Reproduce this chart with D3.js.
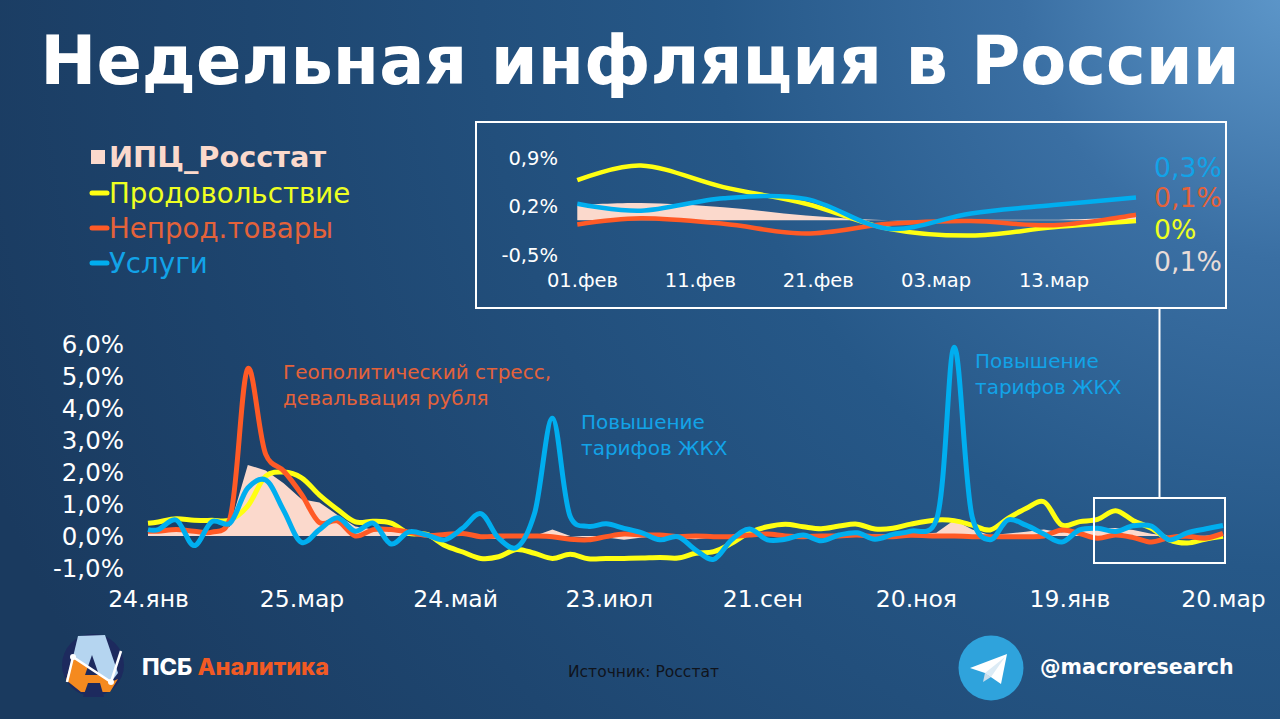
<!DOCTYPE html>
<meta charset="utf-8">
<style>
  html, body { margin: 0; padding: 0; background: #1c4068; overflow: hidden; }
  text { font-family: "DejaVu Sans", sans-serif; }
</style>
<script src="https://d3js.org/d3.v7.min.js"></script>
<div id="chart"></div>
<script>

// weekly observations, days counted from 24 Jan
var days = [0, 4, 11, 18, 25, 32, 39, 46, 53, 60, 67, 74, 81, 88, 95, 102, 109, 116, 123, 130, 137, 144,
  151, 158, 165, 172, 179, 186, 193, 200, 207, 214, 221, 228, 235, 242, 249, 256, 263, 270, 277, 284, 291, 298,
  308, 315, 322, 329, 336, 343, 350, 357, 364, 371, 378, 385, 392, 399, 406, 413, 420];

var cpi = [.15, .15, .2, .15, .1, .3, 2.22, 2.05, 1.65, 1.15, 1.05, .66, .3, .2, .2, .12, .05, -.02, .05, -.05, -.1, 0,
  0, .2, 0, -.05, -.05, -.12, -.05, 0, -.07, -.1, -.05, -.05, 0, .05, .05, .05, .05, .05, .05, .05, .05, .05,
  .1, .5, .2, .02, .08, .13, .2, .11, .2, .22, .25, .19, .07, 0, .01, .01, .05];

var food = [.4, .44, .54, .49, .49, .5, .94, 1.87, 2, 1.82, 1.28, .83, .44, .46, .4, .08, .05, -.3, -.5, -.7, -.65, -.42,
  -.54, -.7, -.57, -.71, -.7, -.7, -.69, -.67, -.69, -.54, -.49, -.23, .11, .29, .37, .29, .23, .31, .37, .22, .24, .37,
  .5, .48, .34, .19, .55, .86, 1.07, .34, .45, .52, .79, .48, .24, -.12, -.22, -.1, -.01];

var goods = [.15, .15, .2, .15, .12, .55, 5.23, 2.55, 2.03, 1.3, .42, .47, 0, .2, .2, .12, .02, .05, .08, -.02, 0, 0,
  0, -.02, -.1, -.12, -.02, .06, .03, .03, -.02, 0, -.02, -.02, .03, .06, 0, -.02, 0, 0, .03, -.02, -.02, .02,
  0, 0, -.02, -.02, -.02, -.02, 0, .19, .08, -.07, .03, -.05, -.19, -.05, -.01, -.07, .08];

var services = [.2, .2, .5, -.3, .45, .4, 1.5, 1.75, .8, -.2, .2, .57, .15, .4, -.25, .13, .03, -.12, .25, .7, -.07, -.36,
  .7, 3.68, .6, .3, .38, .24, .1, -.12, -.02, -.44, -.73, -.12, .22, -.12, -.1, .03, -.15, .03, .1, -.1, .05, .15,
  .5, 5.9, .6, -.12, .5, .34, .06, -.19, .19, .24, .14, .32, .31, -.12, .1, .22, .33];

var xTickDays = [0, 60, 120, 180, 240, 300, 360, 420];
var xTickLabels = ["24.янв", "25.мар", "24.май", "23.июл", "21.сен", "20.ноя", "19.янв", "20.мар"];
var yTicks = [-1, 0, 1, 2, 3, 4, 5, 6];
var yTickLabels = ["-1,0%", "0,0%", "1,0%", "2,0%", "3,0%", "4,0%", "5,0%", "6,0%"];

// zoomed window, days counted from 1 Feb
var insetDays = [-.4, 5, 12, 19, 26, 33, 40, 47];
var insetCpi = [.22, .25, .19, .07, 0, .01, .01, .05];
var insetFood = [.58, .79, .48, .24, -.12, -.22, -.1, -.01];
var insetGoods = [-.06, .03, -.05, -.19, -.05, -.01, -.07, .08];
var insetServices = [.24, .14, .32, .31, -.12, .1, .22, .33];

var insetXTicks = [0, 10, 20, 30, 40];
var insetXLabels = ["01.фев", "11.фев", "21.фев", "03.мар", "13.мар"];
var insetYTicks = [-.5, .2, .9];
var insetYLabels = ["-0,5%", "0,2%", "0,9%"];
var lastValues = ["0,3%", "0,1%", "0%", "0,1%"];

var legendNames = ["ИПЦ_Росстат", "Продовольствие", "Непрод.товары", "Услуги"];

var colPale = "#fbd9cc", colYellow = "#ffff12", colOrange = "#ff5a26", colBlue = "#00aeef";
var txtYellow = "#eeff22", txtOrange = "#e4623a", txtBlue = "#12a3e8";

var svg = d3.select("#chart").append("svg")
    .attr("width", 1280)
    .attr("height", 719)
    .style("display", "block");

var defs = svg.append("defs");
var bg = defs.append("radialGradient")
    .attr("id", "bg")
    .attr("gradientUnits", "userSpaceOnUse")
    .attr("cx", 1300).attr("cy", -20).attr("r", 1400);
bg.append("stop").attr("offset", "0").attr("stop-color", "#5f99cc");
bg.append("stop").attr("offset", ".2").attr("stop-color", "#3a6fa3");
bg.append("stop").attr("offset", ".42").attr("stop-color", "#265888");
bg.append("stop").attr("offset", ".75").attr("stop-color", "#1e4670");
bg.append("stop").attr("offset", "1").attr("stop-color", "#1a3a5f");

svg.append("rect").attr("width", 1280).attr("height", 719).attr("fill", "url(#bg)");

svg.append("text")
    .attr("x", 640)
    .attr("y", 84)
    .attr("text-anchor", "middle")
    .attr("font-size", "67px")
    .attr("font-weight", "bold")
    .attr("fill", "white")
    .text("Недельная инфляция в России");

// legend
var legendY = [157, 193, 228, 263];
var legendCol = [colPale, colYellow, colOrange, colBlue];
var legendTxt = [colPale, txtYellow, txtOrange, txtBlue];
legendNames.forEach(function (name, i) {
    if (i == 0) {
        svg.append("rect").attr("x", 91).attr("y", 150).attr("width", 14).attr("height", 14).attr("fill", colPale);
    } else {
        svg.append("line")
            .attr("x1", 92).attr("x2", 107)
            .attr("y1", legendY[i]).attr("y2", legendY[i])
            .attr("stroke", legendCol[i])
            .attr("stroke-width", 5)
            .attr("stroke-linecap", "round");
    }
    svg.append("text")
        .attr("x", 109)
        .attr("y", legendY[i] + 10)
        .attr("font-size", i == 0 ? "28.8px" : "27.7px")
        .attr("font-weight", i == 0 ? "bold" : "normal")
        .attr("fill", legendTxt[i])
        .text(name);
});

// main chart
var x = d3.scaleLinear().domain([0, 420]).range([148, 1223]);
var y = d3.scaleLinear().domain([-1, 6]).range([568, 344]);

var xAxis = svg.append("g")
    .attr("transform", "translate(0,584)")
    .call(d3.axisBottom(x).tickValues(xTickDays).tickSize(0).tickPadding(6)
        .tickFormat(function (d, i) { return xTickLabels[i]; }));
var yAxis = svg.append("g")
    .attr("transform", "translate(134,1)")
    .call(d3.axisLeft(y).tickValues(yTicks).tickSize(0).tickPadding(10)
        .tickFormat(function (d, i) { return yTickLabels[i]; }));
xAxis.select(".domain").remove();
yAxis.select(".domain").remove();
xAxis.selectAll("text").attr("fill", "white").style("font-size", "23.5px");
yAxis.selectAll("text").attr("fill", "white").style("font-size", "24.5px");

var smooth = d3.curveCatmullRom.alpha(.2);

function drawSeries(g, xs, sx, sy, vals, col, w) {
    var line = d3.line()
        .x(function (d, i) { return sx(xs[i]); })
        .y(function (d) { return sy(d); })
        .curve(smooth);
    g.append("path")
        .attr("d", line(vals))
        .attr("fill", "none")
        .attr("stroke", col)
        .attr("stroke-width", w)
        .attr("stroke-linejoin", "round");
}

function drawArea(g, xs, sx, sy, vals, curve) {
    var area = d3.area()
        .x(function (d, i) { return sx(xs[i]); })
        .y0(sy(0))
        .y1(function (d) { return sy(d); })
        .curve(curve);
    g.append("path").attr("d", area(vals)).attr("fill", colPale);
}

var main = svg.append("g");
drawArea(main, days, x, y, cpi, d3.curveLinear);
drawSeries(main, days, x, y, food, colYellow, 5);
drawSeries(main, days, x, y, goods, colOrange, 5);
drawSeries(main, days, x, y, services, colBlue, 5);

// annotations
function note(px, py, lines, col) {
    lines.forEach(function (t, i) {
        svg.append("text")
            .attr("x", px)
            .attr("y", py + i * 25.5)
            .attr("font-size", "20px")
            .attr("fill", col)
            .text(t);
    });
}
note(283, 379, ["Геополитический стресс,", "девальвация рубля"], txtOrange);
note(581, 429, ["Повышение", "тарифов ЖКХ"], txtBlue);
note(975, 368, ["Повышение", "тарифов ЖКХ"], txtBlue);

// frames
svg.append("rect").attr("x", 476).attr("y", 122).attr("width", 750).attr("height", 186)
    .attr("fill", "none").attr("stroke", "white").attr("stroke-width", 2);
svg.append("rect").attr("x", 1094).attr("y", 498).attr("width", 131).attr("height", 65)
    .attr("fill", "none").attr("stroke", "white").attr("stroke-width", 2);
svg.append("line").attr("x1", 1159.5).attr("x2", 1159.5).attr("y1", 308).attr("y2", 498)
    .attr("stroke", "white").attr("stroke-width", 2);

// inset chart
var xIn = d3.scaleLinear().domain([0, 47]).range([582, 1136]);
var yIn = d3.scaleLinear().domain([-.5, .9]).range([255, 158]);

var xInAxis = svg.append("g")
    .attr("transform", "translate(0,270)")
    .call(d3.axisBottom(xIn).tickValues(insetXTicks).tickSize(0).tickPadding(3)
        .tickFormat(function (d, i) { return insetXLabels[i]; }));
var yInAxis = svg.append("g")
    .attr("transform", "translate(558,0)")
    .call(d3.axisLeft(yIn).tickValues(insetYTicks).tickSize(0).tickPadding(0)
        .tickFormat(function (d, i) { return insetYLabels[i]; }));
xInAxis.select(".domain").remove();
yInAxis.select(".domain").remove();
xInAxis.selectAll("text").attr("fill", "white").style("font-size", "19.5px");
yInAxis.selectAll("text").attr("fill", "white").style("font-size", "19.5px");

var inset = svg.append("g");
drawArea(inset, insetDays, xIn, yIn, insetCpi, smooth);
drawSeries(inset, insetDays, xIn, yIn, insetFood, colYellow, 4.5);
drawSeries(inset, insetDays, xIn, yIn, insetGoods, colOrange, 4.5);
drawSeries(inset, insetDays, xIn, yIn, insetServices, colBlue, 4.5);

var lastY = [177, 207, 239, 271];
var lastCol = [txtBlue, txtOrange, txtYellow, "#e8dcd8"];
lastValues.forEach(function (t, i) {
    svg.append("text")
        .attr("x", 1154)
        .attr("y", lastY[i])
        .attr("font-size", "26.7px")
        .attr("fill", lastCol[i])
        .text(t);
});

// logo
var logo = svg.append("g");
logo.append("circle").attr("cx", 93).attr("cy", 665).attr("r", 31).attr("fill", "#1d2a5e");
logo.append("path")
    .attr("d", "M73 657 L78 636 L105 635 L118 673 L111 682 Z")
    .attr("fill", "#b5d5f0");
logo.append("path")
    .attr("d", "M73 657 L111 682 L118 679 L110 692 L81 692 L66 680 Z")
    .attr("fill", "#f58a1f");
logo.append("path").attr("d", "M92 655 L99 675 L85 675 Z").attr("fill", "#1d2a5e");
logo.append("path").attr("d", "M88 683 L100 683 L104 697 L83 697 Z").attr("fill", "#1d2a5e");
logo.append("path")
    .attr("d", "M67 682 L73 657 L111 682 L121 651")
    .attr("fill", "none").attr("stroke", "white").attr("stroke-width", 2.5);
logo.append("circle").attr("cx", 73).attr("cy", 657).attr("r", 3).attr("fill", "white");
logo.append("circle").attr("cx", 111).attr("cy", 682).attr("r", 3).attr("fill", "white");

var brand = svg.append("text")
    .attr("x", 142)
    .attr("y", 675)
    .attr("font-size", "23.5px")
    .style("font-family", "Inter, sans-serif")
    .attr("font-weight", 800);
brand.append("tspan").attr("fill", "white").text("ПСБ ");
brand.append("tspan").attr("fill", "#f15a24").text("Аналитика");

svg.append("text")
    .attr("x", 568)
    .attr("y", 677)
    .attr("font-size", "15.5px")
    .attr("fill", "#10141c")
    .text("Источник: Росстат");

// telegram
var tg = svg.append("g");
tg.append("circle").attr("cx", 991).attr("cy", 668).attr("r", 32.5).attr("fill", "#2fa3dc");
tg.append("path").attr("d", "M970 668 L1007 654 L1001 684 L985 673 Z").attr("fill", "white");
tg.append("path").attr("d", "M985 673 L983 682 L991 677 Z").attr("fill", "#c8dcea");
tg.append("path").attr("d", "M985 673 L1005 657 L991 677 Z").attr("fill", "#dcebf5");

svg.append("text")
    .attr("x", 1040)
    .attr("y", 674)
    .attr("font-size", "20.6px")
    .attr("font-weight", "bold")
    .attr("fill", "white")
    .text("@macroresearch");

</script>
